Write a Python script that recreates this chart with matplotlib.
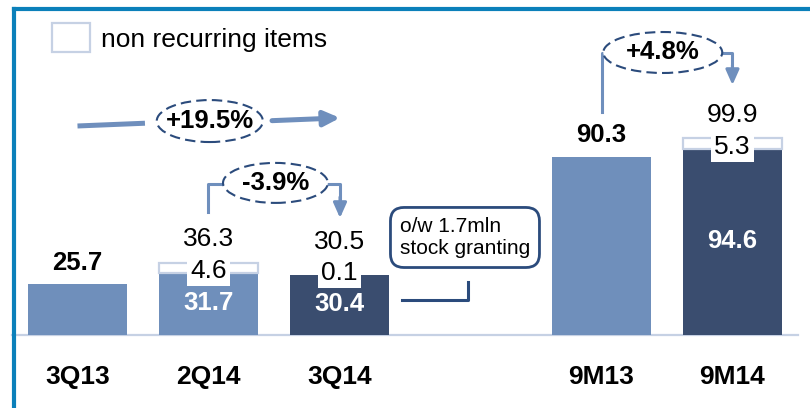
import numpy as np
import matplotlib
matplotlib.use("Agg")
import matplotlib.pyplot as plt
from matplotlib.patches import Ellipse, Rectangle
from matplotlib.lines import Line2D

plt.rcParams['font.family'] = ['Liberation Sans', 'DejaVu Sans']

# data
categories = ['3Q13', '2Q14', '3Q14', '9M13', '9M14']
recurring = [25.7, 31.7, 30.4, 90.3, 94.6]
non_recurring = [0.0, 4.6, 0.1, 0.0, 5.3]
totals = [25.7, 36.3, 30.5, 90.3, 99.9]
growth_labels = ['+19.5%', '-3.9%', '+4.8%']
legend_label = 'non recurring items'
note_text = 'o/w 1.7mln\nstock granting'

# layout / colours
positions = [0, 1, 2, 4, 5]
light = '#6f8fbb'
dark = '#3a4d6f'
bar_colors = [light, light, dark, light, dark]
edge_light = '#c6d1e4'
arrow_col = '#6f8fbd'
navy = '#2b4b7c'
frame_col = '#0b80ba'

fig = plt.figure(figsize=(8.1, 4.08), dpi=100)
ax = fig.add_axes([0, 0, 1, 1])
ax.set_xlim(-0.5916, 5.592)
ax.set_ylim(-37.06, 170.05)
ax.axis('off')

# bars
ax.bar(positions, recurring, width=0.755, color=bar_colors, zorder=2)
for p, r, n in zip(positions, recurring, non_recurring):
    if n > 0.5:
        ax.bar(p, n, bottom=r, width=0.755, color='white',
               edgecolor=edge_light, linewidth=1.6, zorder=2)

# baseline
ax.plot([-0.5, 5.5], [0, 0], color=edge_light, lw=1.6, zorder=1)

# value labels
for p, r, n, t in zip(positions, recurring, non_recurring, totals):
    if n == 0:
        ax.text(p, r + 11, f'{t:.1f}', ha='center', va='center',
                fontsize=18.5, fontweight='bold', color='black')
    else:
        ax.text(p, r + 1, f'{n:.1f}', ha='center', va='center', fontsize=19,
                color='black', zorder=4,
                bbox=dict(boxstyle='square,pad=0.12', fc='white', ec='none'))
        ax.text(p, r + 17, f'{t:.1f}', ha='center', va='center', fontsize=19,
                color='black')
        ax.text(p, r / 2 + 0.5, f'{r:.1f}', ha='center', va='center',
                fontsize=18.5, fontweight='bold', color='white', zorder=3)

# category labels
for p, c in zip(positions, categories):
    ax.text(p, -21.3, c, ha='center', va='center', fontsize=19,
            fontweight='bold')

# legend
ax.add_patch(Rectangle((-0.195, 143.7), 0.29, 14.7, fc='white',
                       ec=edge_light, lw=1.6))
ax.text(0.179, 149.7, legend_label, ha='left', va='center', fontsize=19)

def growth(cx, cy, w, h, label):
    ax.add_patch(Ellipse((cx, cy), w, h, fc='white', ec=navy, lw=1.5,
                         ls=(0, (5, 2.5)), zorder=3))
    ax.text(cx, cy, label, ha='center', va='center', fontsize=18.5,
            fontweight='bold', zorder=4)

def arrow(x0, y0, x1, y1, lw, hl, hw):
    ax.annotate('', xy=(x1, y1), xytext=(x0, y0),
                arrowprops=dict(arrowstyle=f'-|>,head_length={hl},head_width={hw}',
                                color=arrow_col, lw=lw, shrinkA=0, shrinkB=0,
                                mutation_scale=10))

# +19.5%
ax.plot([0.0, 0.515], [106.1, 107.5], color=arrow_col, lw=3.6,
        solid_capstyle='butt')
arrow(1.485, 108.8, 2.004, 110.2, 3.6, 0.95, 0.45)
growth(1.01, 108.6, 0.81, 21.3, growth_labels[0])

# -3.9%
ax.plot([0.998, 0.998, 1.12], [62.6, 76.6, 76.6], color=arrow_col, lw=2.2)
ax.plot([1.90, 2.004, 2.004], [76.6, 76.6, 66], color=arrow_col, lw=2.2)
arrow(2.004, 70, 2.004, 59.4, 2.2, 0.9, 0.4)
growth(1.511, 77.2, 0.80, 20.3, growth_labels[1])

# +4.8%
ax.plot([4.004, 4.004, 4.03], [113.2, 143.1, 143.1], color=arrow_col, lw=2.2)
ax.plot([4.90, 5.0, 5.0], [143.1, 143.1, 133], color=arrow_col, lw=2.2)
arrow(5.0, 137, 5.0, 126.9, 2.2, 0.9, 0.4)
growth(4.468, 143.4, 0.908, 20.8, growth_labels[2])

# stock granting note
ax.text(2.958, 49.5, note_text, ha='center', va='center', fontsize=15,
        multialignment='left', linespacing=1.22,
        bbox=dict(boxstyle='round,pad=0.45,rounding_size=0.65', fc='white',
                  ec=navy, lw=2))
ax.plot([2.477, 2.981, 2.981], [17.8, 17.8, 26.9], color=navy, lw=2.2)

# blue frame
fig.add_artist(Line2D([14 / 810, 1], [1 - 9 / 408, 1 - 9 / 408],
                      color=frame_col, lw=3))
fig.add_artist(Line2D([14 / 810, 14 / 810], [0, 1 - 9 / 408],
                      color=frame_col, lw=3))

fig.savefig('out.png', dpi=100)
